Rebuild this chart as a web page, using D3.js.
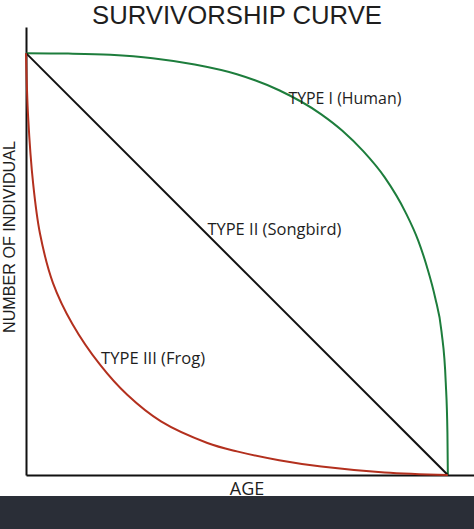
<!DOCTYPE html>
<html><head><meta charset="utf-8">
<script src="https://cdn.jsdelivr.net/npm/d3@7"></script>
<style>body{margin:0;background:#fff}svg{display:block}</style>
</head><body><svg id="c" width="474" height="529"></svg>
<script>
const title = "SURVIVORSHIP CURVE";
const xLabel = "AGE";
const yLabel = "NUMBER OF INDIVIDUAL";
const seriesNames = ["TYPE I (Human)", "TYPE II (Songbird)", "TYPE III (Frog)"];

// Type I (Human) — late loss
const typeIAge  = [0, 10, 20, 30, 40, 50, 60, 70, 75, 80, 85, 90, 93, 95, 97, 98.5, 99.5, 99.9, 100];
const typeISurv = [1000, 999, 996, 988, 973, 950, 912, 855, 816, 767, 706, 622, 555, 495, 420, 340, 220, 100, 0];
// Type II (Songbird) — constant loss
const typeIIAge  = [0, 100];
const typeIISurv = [1000, 0];
// Type III (Frog) — early loss
const typeIIIAge  = [0, 0.5, 1.7, 3.3, 6.4, 11, 17.5, 24, 32, 43, 50, 60, 70, 85, 100];
const typeIIISurv = [1000, 850, 690, 573, 455, 358, 262, 190, 127, 76, 56, 35, 20, 6, 0];

const W = 474, H = 529;
const svg = d3.select("#c");
const x = d3.scaleLinear().domain([0, 106.2]).range([26, 474]);
const y = d3.scaleLinear().domain([0, 1062]).range([475, 27]);

const font = "'Open Sans', 'DejaVu Sans', sans-serif";
const compactFont = "'Liberation Sans', Arial, sans-serif";
const ink = "#1e1e1e";

// Title
svg.append("text").attr("x", 237).attr("y", 23.5).attr("text-anchor", "middle")
  .attr("font-family", compactFont).attr("font-size", 26).attr("fill", ink)
  .attr("textLength", 290).attr("lengthAdjust", "spacingAndGlyphs").text(title);

// Axes (domain lines only)
const gx = svg.append("g").attr("transform", `translate(0,${y(0)})`)
  .call(d3.axisBottom(x).ticks(0).tickSizeOuter(0));
const gy = svg.append("g").attr("transform", `translate(${x(0)},0)`)
  .call(d3.axisLeft(y).ticks(0).tickSizeOuter(0));
[gx, gy].forEach(g => g.select(".domain").attr("stroke", "#111").attr("stroke-width", 2));

const series = [
  {age: typeIAge, surv: typeISurv, color: "#1d7d3c", curve: d3.curveMonotoneX},
  {age: typeIIAge, surv: typeIISurv, color: "#111111", curve: d3.curveLinear},
  {age: typeIIIAge, surv: typeIIISurv, color: "#b3301e", curve: d3.curveCatmullRom.alpha(0.5)}
];
series.forEach(s => {
  const line = d3.line().x(d => x(d[0])).y(d => y(d[1])).curve(s.curve);
  svg.append("path").datum(s.age.map((a, i) => [a, s.surv[i]]))
    .attr("d", line).attr("fill", "none").attr("stroke", s.color).attr("stroke-width", 2);
});

// Series labels
const labelPos = [[62.2, 880, 113], [43.0, 570, 134], [17.8, 263, 104]];
seriesNames.forEach((n, i) => {
  svg.append("text").attr("x", x(labelPos[i][0])).attr("y", y(labelPos[i][1]))
    .attr("font-family", font).attr("font-size", 16).attr("fill", ink)
    .attr("textLength", labelPos[i][2]).attr("lengthAdjust", "spacingAndGlyphs").text(n);
});

// Axis titles
svg.append("text").attr("x", 247).attr("y", 495).attr("text-anchor", "middle")
  .attr("font-family", font).attr("font-size", 18).attr("fill", ink).text(xLabel);
svg.append("text").attr("transform", "translate(15,237) rotate(-90)").attr("text-anchor", "middle")
  .attr("font-family", compactFont).attr("font-size", 16).attr("fill", ink)
  .attr("textLength", 192).attr("lengthAdjust", "spacingAndGlyphs").text(yLabel);

// Footer bar
svg.append("rect").attr("x", 0).attr("y", 496).attr("width", W).attr("height", H - 496).attr("fill", "#2a2e37");
</script></body></html>
